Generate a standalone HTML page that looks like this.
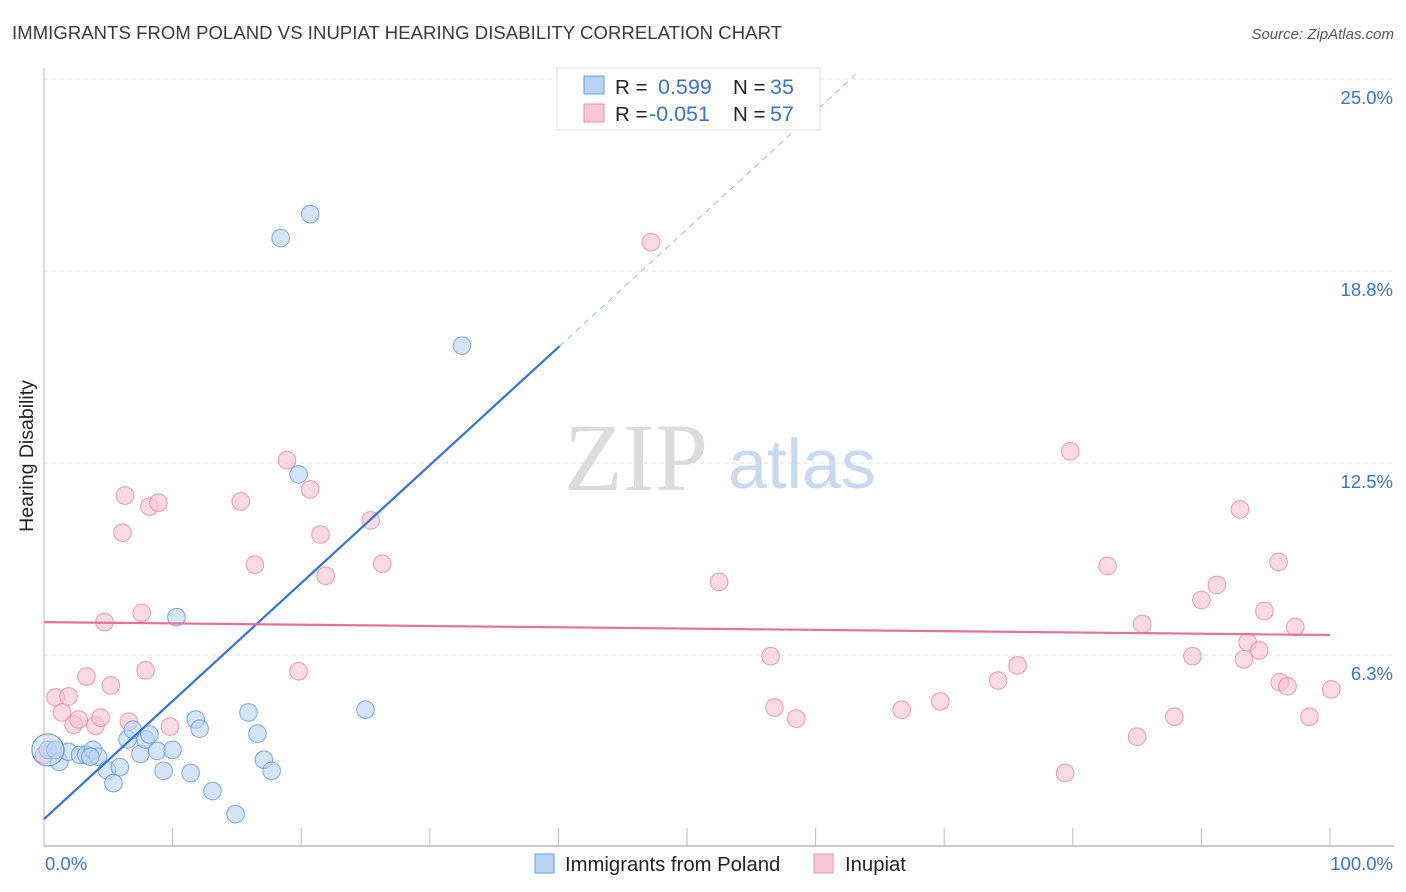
<!DOCTYPE html>
<html><head><meta charset="utf-8"><style>
body{margin:0;background:#fff;font-family:"Liberation Sans",sans-serif;}
svg{display:block}
</style></head><body>
<svg id="chart" width="1406" height="892" xmlns="http://www.w3.org/2000/svg">
<text x="12" y="39" font-size="18.5" fill="#3a3a3a" textLength="770">IMMIGRANTS FROM POLAND VS INUPIAT HEARING DISABILITY CORRELATION CHART</text>
<text x="1394" y="39" font-size="15" fill="#555" font-style="italic" text-anchor="end">Source: ZipAtlas.com</text>
<text transform="translate(33,456) rotate(-90)" font-size="19.5" fill="#222" text-anchor="middle">Hearing Disability</text>
<g>
<text x="636" y="490" font-family="Liberation Serif,serif" font-size="96" fill="#dcdcdc" text-anchor="middle">ZIP</text>
<text x="802" y="488" font-size="70" fill="#c9daf0" text-anchor="middle">atlas</text>
</g>
<g id="grid"></g>
<g id="axes"></g>
<g id="marks"></g>
<g>
<rect x="557" y="68" width="263" height="62" fill="#fff" stroke="#ddd"/>
<rect x="584" y="76" width="20" height="18" fill="#b9d3f3" stroke="#6a9edf"/>
<rect x="584" y="104" width="20" height="18" fill="#f9c7d6" stroke="#ea8fab"/>
<text x="615" y="94" font-size="20.5" fill="#222">R =</text>
<text x="658" y="94" font-size="21.5" fill="#3a72cf">0.599</text>
<text x="733" y="94" font-size="20.5" fill="#222">N =</text>
<text x="770" y="94" font-size="21.5" fill="#3a72cf">35</text>
<text x="615" y="121" font-size="20.5" fill="#222">R =</text>
<text x="649" y="121" font-size="21.5" fill="#3a72cf">-0.051</text>
<text x="733" y="121" font-size="20.5" fill="#222">N =</text>
<text x="770" y="121" font-size="21.5" fill="#3a72cf">57</text>
</g>
<g>
<rect x="535" y="854" width="19" height="19" fill="#b9d3f3" stroke="#6a9edf"/>
<text x="565" y="871" font-size="20.3" fill="#222">Immigrants from Poland</text>
<rect x="814" y="854" width="19" height="19" fill="#f9c7d6" stroke="#ea8fab"/>
<text x="845" y="871" font-size="20.3" fill="#222">Inupiat</text>
</g>
</svg>
<script>
const yTicks=[6.25,12.5,18.75,25];
const yTickLabels=["6.3%","12.5%","18.8%","25.0%"];
const xTickLabels=["0.0%","100.0%"];
const polandX=[0.3,1.2,1.9,2.8,3.3,3.8,4.2,4.9,5.4,5.9,6.5,6.9,7.5,7.9,8.2,8.8,9.3,10.0,10.3,11.4,11.8,12.1,13.1,14.9,15.9,16.6,17.1,17.7,18.4,19.8,20.7,25.0,32.5,0.9,3.6];
const polandY=[3.16,2.77,3.1,3.0,3.0,3.16,2.94,2.5,2.08,2.6,3.5,3.82,3.03,3.5,3.66,3.13,2.48,3.16,7.48,2.41,4.15,3.85,1.82,1.07,4.38,3.69,2.84,2.48,19.82,12.13,20.6,4.47,16.32,3.16,2.94];
const inupiatX=[0,0.9,1.4,1.9,2.3,2.7,3.3,4.0,4.4,4.7,5.2,6.1,6.3,6.6,7.6,7.9,8.2,8.9,9.8,15.3,16.4,18.9,19.8,20.7,21.5,21.9,25.4,26.3,47.2,52.5,56.5,56.8,58.5,66.7,69.7,74.2,75.7,79.4,79.8,82.7,85.0,85.4,87.9,89.3,90.0,91.2,93.0,93.3,93.6,94.5,94.9,96.0,96.1,96.7,97.3,98.4,100.1];
const inupiatY=[3.0,4.87,4.38,4.9,3.98,4.15,5.55,3.95,4.21,7.32,5.26,10.23,11.44,4.08,7.62,5.75,11.08,11.21,3.92,11.25,9.19,12.59,5.72,11.64,10.17,8.83,10.63,9.22,19.69,8.63,6.21,4.54,4.18,4.47,4.74,5.42,5.91,2.41,12.88,9.15,3.59,7.26,4.24,6.21,8.04,8.53,10.99,6.11,6.67,6.4,7.68,9.28,5.36,5.23,7.16,4.24,5.13];
const trendPoland=[0.91,0.384];
const trendInupiat=[7.32,-0.0042];
const X=v=>44+v*12.86, Y=v=>847-v*30.72;
const NS="http://www.w3.org/2000/svg";
function mk(t,a,p){const e=document.createElementNS(NS,t);for(const k in a)e.setAttribute(k,a[k]);p.appendChild(e);return e;}
const grid=document.getElementById('grid'),axes=document.getElementById('axes'),marks=document.getElementById('marks');
yTicks.forEach((v,i)=>{
 const l=mk('line',{x1:44,x2:1394,y1:Y(v),y2:Y(v),stroke:'#ddd','stroke-dasharray':'4,4'},grid);
 
 
 const t=mk('text',{x:1393,y:Y(v)+25,'font-size':18.5,fill:'#3a72cf','text-anchor':'end'},axes);
 t.textContent=yTickLabels[i];
 
 
});
const ya=mk('line',{x1:44,x2:44,y1:68,y2:847,stroke:'#bbb'},axes);


const xa=mk('line',{x1:44,x2:1394,y1:846,y2:846,stroke:'#bbb','stroke-width':1.5},axes);


for(let i=1;i<=10;i++){const tk=mk('line',{x1:X(i*10),x2:X(i*10),y1:828,y2:846,stroke:'#bbb'},axes);
 
 }
const tl0=mk('text',{x:45,y:870,'font-size':18.5,fill:'#3a72cf'},axes);tl0.textContent=xTickLabels[0];


const tl1=mk('text',{x:1393,y:870,'font-size':18.5,fill:'#3a72cf','text-anchor':'end'},axes);tl1.textContent=xTickLabels[1];


function dots(xs,ys,fill,stroke,name){xs.forEach((x,i)=>{const c=mk('circle',{cx:X(x),cy:Y(ys[i]),r:8.8,fill:fill,stroke:stroke,'stroke-width':1,'fill-opacity':0.6,'stroke-opacity':0.8},marks);
 
 });}
dots(inupiatX,inupiatY,'#f9c2d3','#e8819f','inupiat-point');
dots(polandX,polandY,'#b9d3f3','#5d93d9','poland-point');
const big=mk('circle',{cx:X(0.3),cy:Y(3.16),r:16,fill:'#b9d3f3','fill-opacity':0.5,stroke:'#5d93d9'},marks);


const f=(t,x)=>t[0]+t[1]*x;
const tp=mk('line',{x1:X(0),y1:Y(f(trendPoland,0)),x2:X(40.1),y2:Y(f(trendPoland,40.1)),stroke:'#2f74d6','stroke-width':2.2},marks);


const td=mk('line',{x1:X(40.1),y1:Y(f(trendPoland,40.1)),x2:X(63.1),y2:Y(f(trendPoland,63.1)),stroke:'#9bbbe6','stroke-width':1,'stroke-dasharray':'6,5'},marks);


const ti=mk('line',{x1:X(0),y1:Y(f(trendInupiat,0)),x2:X(100),y2:Y(f(trendInupiat,100)),stroke:'#e8719a','stroke-width':2.2},marks);


</script>
</body></html>
